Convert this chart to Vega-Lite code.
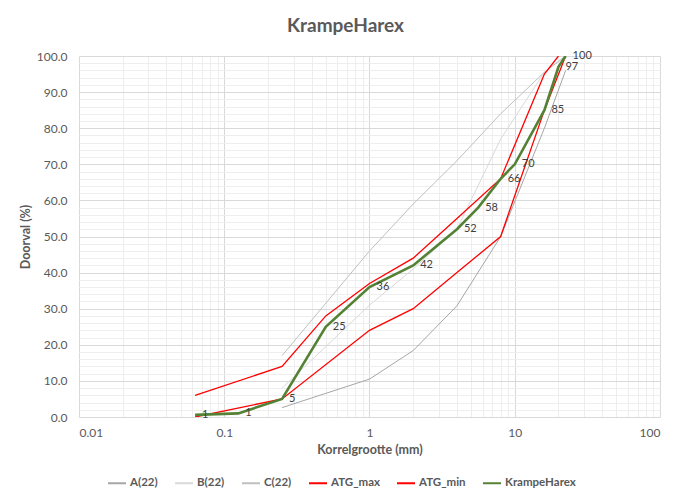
{
  "$schema": "https://vega.github.io/schema/vega-lite/v6.json",
  "autosize": "none",
  "width": 581,
  "height": 361,
  "padding": {"left": 79, "top": 56, "right": 16, "bottom": 79},
  "background": "white",
  "title": {"text": "KrampeHarex", "fontSize": 19, "fontWeight": "bold", "color": "#595959", "font": "Lato", "anchor": "middle", "frame": "group", "dx": -24, "offset": 14},
  "config": {"view": {"stroke": null}, "font": "Lato"},
  "data": {"values": [
    {"series": "A(22)", "x": 0.25, "y": 2.6},
    {"series": "A(22)", "x": 1, "y": 10.5},
    {"series": "A(22)", "x": 2, "y": 18.4},
    {"series": "A(22)", "x": 4, "y": 30.8},
    {"series": "A(22)", "x": 8, "y": 50},
    {"series": "A(22)", "x": 16, "y": 80},
    {"series": "A(22)", "x": 22.4, "y": 96},
    {"series": "B(22)", "x": 0.25, "y": 8},
    {"series": "B(22)", "x": 1, "y": 31},
    {"series": "B(22)", "x": 2, "y": 41},
    {"series": "B(22)", "x": 4, "y": 52},
    {"series": "B(22)", "x": 8, "y": 77},
    {"series": "B(22)", "x": 16, "y": 95.5},
    {"series": "B(22)", "x": 22.4, "y": 100},
    {"series": "C(22)", "x": 0.25, "y": 17},
    {"series": "C(22)", "x": 1, "y": 46},
    {"series": "C(22)", "x": 2, "y": 59},
    {"series": "C(22)", "x": 4, "y": 71},
    {"series": "C(22)", "x": 8, "y": 84},
    {"series": "C(22)", "x": 16, "y": 95.5},
    {"series": "C(22)", "x": 22.4, "y": 100},
    {"series": "ATG_max", "x": 0.063, "y": 6},
    {"series": "ATG_max", "x": 0.25, "y": 14},
    {"series": "ATG_max", "x": 0.5, "y": 28},
    {"series": "ATG_max", "x": 1, "y": 37},
    {"series": "ATG_max", "x": 2, "y": 44},
    {"series": "ATG_max", "x": 4, "y": 55},
    {"series": "ATG_max", "x": 8, "y": 66},
    {"series": "ATG_max", "x": 16, "y": 95},
    {"series": "ATG_max", "x": 20, "y": 100},
    {"series": "ATG_min", "x": 0.063, "y": 0},
    {"series": "ATG_min", "x": 0.25, "y": 5},
    {"series": "ATG_min", "x": 1, "y": 24},
    {"series": "ATG_min", "x": 2, "y": 30},
    {"series": "ATG_min", "x": 4, "y": 40},
    {"series": "ATG_min", "x": 8, "y": 50},
    {"series": "ATG_min", "x": 16, "y": 85},
    {"series": "ATG_min", "x": 22.4, "y": 100},
    {"series": "KrampeHarex", "x": 0.063, "y": 0.6},
    {"series": "KrampeHarex", "x": 0.125, "y": 1},
    {"series": "KrampeHarex", "x": 0.25, "y": 5},
    {"series": "KrampeHarex", "x": 0.5, "y": 25},
    {"series": "KrampeHarex", "x": 1, "y": 36},
    {"series": "KrampeHarex", "x": 2, "y": 42},
    {"series": "KrampeHarex", "x": 4, "y": 52},
    {"series": "KrampeHarex", "x": 5.6, "y": 58},
    {"series": "KrampeHarex", "x": 8, "y": 66},
    {"series": "KrampeHarex", "x": 10, "y": 70},
    {"series": "KrampeHarex", "x": 16, "y": 85},
    {"series": "KrampeHarex", "x": 20, "y": 97},
    {"series": "KrampeHarex", "x": 22.4, "y": 100}
  ]},
  "encoding": {
    "x": {"field": "x", "type": "quantitative",
      "scale": {"type": "log", "domain": [0.01, 100], "nice": false},
      "axis": {
        "title": "Korrelgrootte (mm)", "titleFontSize": 12.5, "titleFontWeight": "bold", "titleColor": "#595959", "titlePadding": 5,
        "values": [0.01,0.02,0.03,0.04,0.05,0.06,0.07,0.08,0.09,0.1,0.2,0.3,0.4,0.5,0.6,0.7,0.8,0.9,1,2,3,4,5,6,7,8,9,10,20,30,40,50,60,70,80,90,100],
        "labelExpr": "indexof([0.01,0.1,1,10,100], datum.value) >= 0 ? datum.label : ''",
        "format": "~g",
        "labelFontSize": 12, "labelColor": "#595959", "labelPadding": 10,
        "ticks": false, "domain": false, "grid": true,
        "gridColor": {"condition": {"test": "indexof([0.01,0.1,1,10,100], datum.value) >= 0", "value": "#d9d9d9"}, "value": "#eeeeee"},
        "gridWidth": 1
      }},
    "y": {"field": "y", "type": "quantitative",
      "scale": {"domain": [0, 100], "nice": false},
      "axis": {
        "title": "Doorval (%)", "titleFontSize": 12.5, "titleFontWeight": "bold", "titleColor": "#595959", "titlePadding": 4,
        "values": [0,2,4,6,8,10,12,14,16,18,20,22,24,26,28,30,32,34,36,38,40,42,44,46,48,50,52,54,56,58,60,62,64,66,68,70,72,74,76,78,80,82,84,86,88,90,92,94,96,98,100],
        "labelExpr": "datum.value % 10 == 0 ? format(datum.value, '.1f') : ''",
        "labelFontSize": 12, "labelColor": "#595959", "labelPadding": 12,
        "ticks": false, "domain": false, "grid": true,
        "gridColor": {"condition": {"test": "datum.value % 10 == 0", "value": "#d9d9d9"}, "value": "#eeeeee"}
      }}
  },
  "layer": [
    {
      "mark": {"type": "line", "clip": true},
      "encoding": {
        "color": {"field": "series", "type": "nominal",
          "scale": {"domain": ["A(22)", "B(22)", "C(22)", "ATG_max", "ATG_min", "KrampeHarex"],
                    "range": ["#a6a6a6", "#d9d9d9", "#bfbfbf", "#ff0000", "#ff0000", "#548235"]},
          "legend": {"title": null, "orient": "none", "legendX": 28, "legendY": 417, "direction": "horizontal",
            "symbolType": "stroke", "symbolSize": 324, "symbolStrokeWidth": 2, "labelFontSize": 11.5, "labelFontWeight": "bold", "labelColor": "#595959",
            "columnPadding": 13, "labelOffset": 3}},
        "strokeWidth": {
          "condition": [
            {"test": "datum.series == 'KrampeHarex'", "value": 2.6},
            {"test": "datum.series == 'ATG_max' || datum.series == 'ATG_min'", "value": 1.3}
          ],
          "value": 1},
        "order": {"field": "x", "type": "quantitative"}
      }
    },
    {
      "transform": [{"filter": "datum.series == 'KrampeHarex'"}],
      "mark": {"type": "text", "align": "left", "baseline": "middle", "dx": 7, "fontSize": 11, "color": "#404040"},
      "encoding": {"text": {"field": "y", "type": "quantitative", "format": ".0f"}}
    }
  ]
}
